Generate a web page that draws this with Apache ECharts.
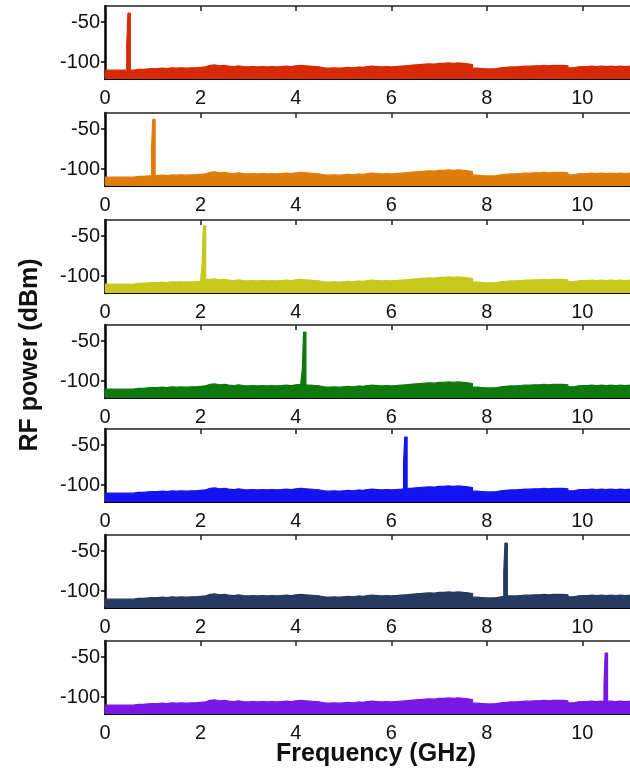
<!DOCTYPE html>
<html>
<head>
<meta charset="utf-8">
<script src="https://cdn.jsdelivr.net/npm/echarts@6/dist/echarts.min.js"></script>
<style>html,body{margin:0;padding:0;background:#fff}#c{width:630px;height:778px}</style>
</head>
<body>
<div id="c"></div>
<script>
// Noise floor (dBm) read every 0.1 GHz from 0.0 to 11.0 GHz
var floorStep = 0.1;
var noiseFloor = [
 -110,-110,-110,-110,-110,-110,-109,-109,-108.5,-108,-108,
 -107.5,-108,-107,-107.5,-107,-107.5,-107,-107,-106.5,-106,
 -104,-103.5,-104.5,-104,-105,-105.5,-104.5,-105.5,-106,-105.5,
 -106,-105.5,-106,-105.5,-106,-105.5,-105,-105.5,-104.5,-104,
 -104.5,-105,-105.5,-106,-107,-107.5,-107,-107.5,-107,-106.5,
 -107,-106,-106.5,-105.5,-105,-105.5,-106,-105.5,-106,-105.5,
 -105,-104.5,-104,-103.5,-103,-102.5,-102,-102.5,-101.5,-101.5,
 -101,-101.5,-101,-101.5,-102,-103,-107.5,-108,-108.5,-108.5,
 -108,-107,-106.5,-106,-106,-105.5,-105,-105,-104.5,-104.5,
 -104,-104.5,-104,-104,-104,-104.5,-107,-106,-105.5,-105.5,
 -105,-105.5,-105,-105.5,-105,-105.5,-105,-105.5,-105,-105.5
];
// Tone of each panel
var peakFreq = [0.48, 1.0, 2.06, 4.16, 6.28, 8.38, 10.48];      // GHz
var peakLevel = [-39, -38, -37.5, -39, -40, -40, -45];           // dBm
var shoulderLevel = [-80, -75, -85, -85, -74, -76, -85];         // dBm
var colors = ['#d62a04', '#e07d0a', '#c8c81c', '#0e7a0e', '#1414f0', '#263a60', '#7c16e4'];
var xTicks = [0, 2, 4, 6, 8, 10];
var yTicks = [-100, -50];

var tops = [6, 113, 220, 325, 429, 535, 641];
var panelH = 73;

function buildData(p) {
  var f = peakFreq[p];
  var s0 = f - 0.025, s1 = f, s2 = f + 0.05;
  var pts = [];
  for (var i = 0; i < noiseFloor.length; i++) {
    var x = +(i * floorStep).toFixed(2);
    if (x < s0) pts.push([x, noiseFloor[i]]);
  }
  pts.push([s0, shoulderLevel[p]]);
  pts.push([s1, peakLevel[p]]);
  pts.push([s2, noiseFloor[Math.floor(s2 / floorStep)]]);
  for (var j = 0; j < noiseFloor.length; j++) {
    var xx = +(j * floorStep).toFixed(2);
    if (xx > s2) pts.push([xx, noiseFloor[j]]);
  }
  // histogram-style: hold each value until the next sample
  var d = [];
  for (var k = 0; k < pts.length; k++) {
    d.push(pts[k]);
    var nx = k + 1 < pts.length ? pts[k + 1][0] : 11;
    d.push([nx, pts[k][1]]);
  }
  return d;
}

var font = 'Liberation Sans, Arial, sans-serif';
var grids = [], xAxes = [], yAxes = [], series = [];
for (var p = 0; p < 7; p++) {
  grids.push({left: 105, width: 528, top: tops[p], height: panelH});
  xAxes.push({
    type: 'value', gridIndex: p, min: 0, max: 11, interval: 2, position: 'bottom',
    axisLine: {show: true, onZero: false, lineStyle: {color: '#000', width: 2}},
    axisTick: {show: false},
    axisLabel: {margin: 9, fontSize: 20, color: '#111', fontFamily: font, customValues: xTicks},
    splitLine: {show: false}
  });
  xAxes.push({
    type: 'value', gridIndex: p, min: 0, max: 11, interval: 2, position: 'top',
    axisLine: {show: true, onZero: false, lineStyle: {color: '#222', width: 1.5}},
    axisTick: {show: true, inside: true, length: 5, lineStyle: {color: '#222', width: 1.5}, customValues: xTicks},
    axisLabel: {show: false},
    splitLine: {show: false}
  });
  yAxes.push({
    type: 'value', gridIndex: p, min: -121, max: -30,
    axisLine: {show: true, onZero: false, lineStyle: {color: '#000', width: 2.5}},
    axisTick: {show: true, length: 4, lineStyle: {color: '#000', width: 1.5}, customValues: yTicks},
    axisLabel: {margin: 5, fontSize: 20, color: '#111', fontFamily: font, customValues: yTicks},
    splitLine: {show: false}
  });
  series.push({
    type: 'line', xAxisIndex: 2 * p, yAxisIndex: p, data: buildData(p),
    showSymbol: false, silent: true,
    lineStyle: {color: colors[p], width: 1.2},
    areaStyle: {color: colors[p], opacity: 1, origin: 'start'},
    z: 1
  });
}

var chart = echarts.init(document.getElementById('c'), null, {renderer: 'canvas'});
chart.setOption({
  animation: false,
  backgroundColor: '#fff',
  grid: grids, xAxis: xAxes, yAxis: yAxes, series: series,
  graphic: [
    {type: 'text', x: 30, y: 355, rotation: Math.PI / 2,
      style: {text: 'RF power (dBm)', font: 'bold 25px ' + font, fill: '#111', align: 'center', verticalAlign: 'middle'}},
    {type: 'text', x: 376, y: 754,
      style: {text: 'Frequency (GHz)', font: 'bold 25px ' + font, fill: '#111', align: 'center', verticalAlign: 'middle'}}
  ]
});
</script>
</body>
</html>
